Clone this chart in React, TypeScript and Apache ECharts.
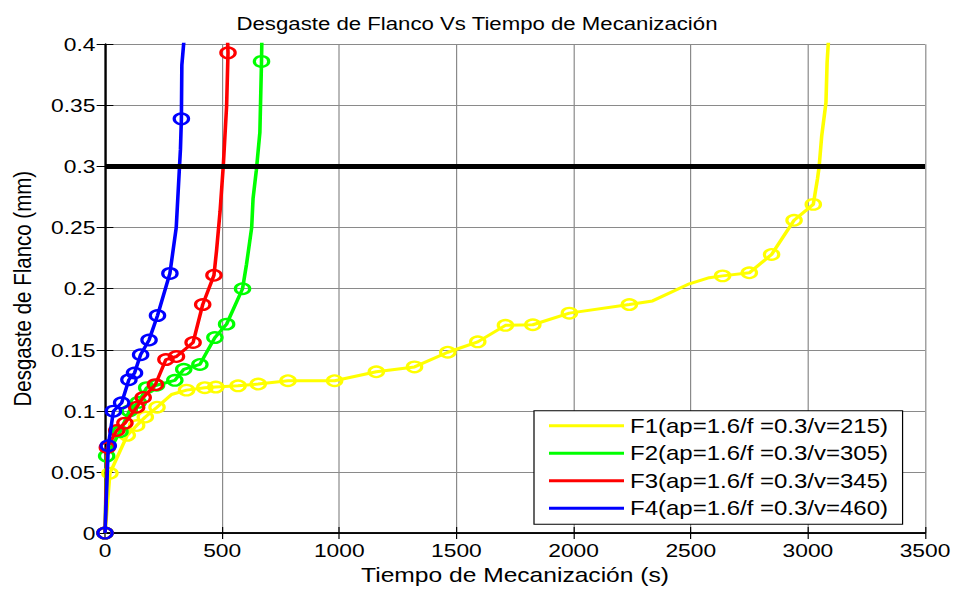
import React, { useEffect, useRef } from "react";
import * as echarts from "echarts";

// ---- data ----
const seriesNames = [
  "F1(ap=1.6/f =0.3/v=215)",
  "F2(ap=1.6/f =0.3/v=305)",
  "F3(ap=1.6/f =0.3/v=345)",
  "F4(ap=1.6/f =0.3/v=460)",
];
const seriesColors = ["#ffff00", "#00ff00", "#ff0000", "#0000ff"];

// F1 : time (s), flank wear (mm), 1 = measured point drawn with a circle
const f1Time = [0, 21, 95, 135, 172, 222, 284, 348, 426, 473, 568, 654, 781, 980, 1158, 1321, 1463, 1591, 1709, 1826, 1982, 2238, 2337, 2494, 2579, 2636, 2750, 2845, 2941, 3023, 3041, 3048, 3059, 3077, 3082, 3090];
const f1Wear = [0, 0.049, 0.080, 0.088, 0.095, 0.103, 0.1134, 0.117, 0.119, 0.1195, 0.1205, 0.122, 0.1247, 0.1247, 0.132, 0.136, 0.148, 0.1565, 0.170, 0.1705, 0.180, 0.187, 0.190, 0.204, 0.209, 0.2105, 0.213, 0.228, 0.256, 0.269, 0.290, 0.300, 0.325, 0.352, 0.385, 0.41];
const f1Mark = [1, 1, 1, 1, 1, 1, 0, 1, 1, 1, 1, 1, 1, 1, 1, 1, 1, 1, 1, 1, 1, 1, 0, 0, 0, 1, 1, 1, 1, 1, 0, 0, 0, 0, 0, 0];

const f2Time = [0, 7, 64, 104, 142, 178, 220, 298, 336, 405, 469, 519, 587, 604, 626, 632, 646, 661, 668, 670];
const f2Wear = [0, 0.063, 0.083, 0.100, 0.107, 0.119, 0.121, 0.125, 0.134, 0.138, 0.160, 0.171, 0.200, 0.220, 0.250, 0.274, 0.297, 0.328, 0.386, 0.41];
const f2Mark = [1, 1, 1, 1, 1, 1, 1, 1, 1, 1, 1, 1, 1, 0, 0, 0, 0, 0, 1, 0];

const f3Time = [0, 10, 50, 85, 135, 163, 215, 260, 305, 376, 417, 465, 476, 491, 505, 519, 525, 522];
const f3Wear = [0, 0.070, 0.084, 0.090, 0.103, 0.111, 0.1215, 0.142, 0.1445, 0.156, 0.187, 0.211, 0.231, 0.263, 0.301, 0.3495, 0.393, 0.41];
const f3Mark = [1, 1, 1, 1, 1, 1, 1, 1, 1, 1, 1, 1, 0, 0, 0, 0, 1, 0];

const f4Time = [0, 14, 36, 71, 102, 126, 152, 188, 224, 277, 304, 318, 322, 326, 328, 340];
const f4Wear = [0, 0.0715, 0.0998, 0.1066, 0.1255, 0.131, 0.146, 0.158, 0.178, 0.2125, 0.25, 0.30, 0.314, 0.339, 0.383, 0.41];
const f4Mark = [1, 1, 1, 1, 1, 1, 1, 1, 1, 1, 0, 0, 0, 1, 0, 0];

const thresholdWear = 0.3;
const thresholdTime = [0, 3500];

const xTicks = { min: 0, max: 3500, interval: 500 };
const yTicks = { min: 0, max: 0.4, interval: 0.05 };

const allTime = [f1Time, f2Time, f3Time, f4Time];
const allWear = [f1Wear, f2Wear, f3Wear, f4Wear];
const allMark = [f1Mark, f2Mark, f3Mark, f4Mark];

// ---- layout ----
const STRETCH = 1.2; // the reference figure is stretched horizontally
const W = 954 / STRETCH;
const H = 591;
const FONT = "'Liberation Sans', Arial, Helvetica, sans-serif";

export default function App() {
  const ref = useRef<HTMLDivElement>(null);

  useEffect(() => {
    if (!ref.current) return;
    const chart = echarts.init(ref.current, undefined, { renderer: "svg" });

    const axisCommon = {
      axisLine: { show: true, lineStyle: { color: "#000", width: 1.5 } },
    };

    const series: any[] = seriesNames.map((name, k) => ({
      type: "line",
      name,
      data: allTime[k].map((t, i) => ({
        value: [t, allWear[k][i]],
        symbol: allMark[k][i] ? "circle" : "none",
      })),
      showAllSymbol: true,
      symbolSize: [12, 10.5],
      lineStyle: { color: seriesColors[k], width: 3 },
      itemStyle: {
        color: "rgba(0,0,0,0)",
        borderColor: seriesColors[k],
        borderWidth: 2.5,
      },
      emphasis: { disabled: true },
      silent: true,
      z: 2 + k,
    }));

    series.push({
      type: "line",
      name: "Límite",
      data: thresholdTime.map((t) => [t, thresholdWear]),
      symbol: "none",
      lineStyle: { color: "#000", width: 5 },
      silent: true,
      z: 10,
    });

    chart.setOption({
      animation: false,
      backgroundColor: "#fff",
      title: {
        text: "Desgaste de Flanco Vs Tiempo de Mecanización",
        left: "center",
        top: 9,
        textStyle: {
          fontFamily: FONT,
          fontSize: 18.5,
          fontWeight: "normal",
          color: "#000",
        },
      },
      grid: { left: 87.5, right: W - 926 / STRETCH, top: 44.3, bottom: H - 538.3 },
      xAxis: [
        {
          type: "value",
          ...xTicks,
          name: "Tiempo de Mecanización (s)",
          nameLocation: "middle",
          nameGap: 30,
          nameTextStyle: { fontFamily: FONT, fontSize: 20.5, color: "#000" },
          ...axisCommon,
          axisTick: { show: true, inside: true, length: 6, lineStyle: { color: "#000" } },
          axisLabel: {
            fontFamily: FONT,
            fontSize: 19,
            color: "#000",
            margin: 8,
            formatter: (v: number) => String(v),
          },
          splitLine: { show: true, lineStyle: { color: "#8a8a8a", width: 1 } },
        },
        {
          type: "value",
          position: "top",
          ...xTicks,
          ...axisCommon,
          axisTick: { show: true, inside: true, length: 6, lineStyle: { color: "#000" } },
          axisLabel: { show: false },
          splitLine: { show: false },
        },
      ],
      yAxis: [
        {
          type: "value",
          ...yTicks,
          name: "Desgaste de Flanco (mm)",
          nameLocation: "middle",
          nameGap: 58,
          nameTextStyle: { fontFamily: FONT, fontSize: 20.5, color: "#000" },
          ...axisCommon,
          axisTick: { show: true, inside: true, length: 7, lineStyle: { color: "#000" } },
          axisLabel: { fontFamily: FONT, fontSize: 19, color: "#000", margin: 8 },
          splitLine: { show: true, lineStyle: { color: "#8a8a8a", width: 1 } },
        },
        {
          type: "value",
          position: "right",
          ...yTicks,
          ...axisCommon,
          axisTick: { show: true, inside: true, length: 7, lineStyle: { color: "#000" } },
          axisLabel: { show: false },
          splitLine: { show: false },
        },
      ],
      legend: {
        orient: "vertical",
        left: 534 / STRETCH,
        top: 410.7,
        itemWidth: 62.5,
        itemHeight: 3,
        itemGap: 7.5,
        padding: [5, 12, 6, 12.5],
        borderColor: "#000",
        borderWidth: 1,
        backgroundColor: "#fff",
        selectedMode: false,
        textStyle: { fontFamily: FONT, fontSize: 20, color: "#000" },
        data: seriesNames.map((name, k) => ({
          name,
          icon: "rect",
          itemStyle: { color: seriesColors[k], borderWidth: 0 },
        })),
      },
      series,
    });

    return () => chart.dispose();
  }, []);

  return (
    <div
      ref={ref}
      style={{
        position: "absolute",
        left: 0,
        top: 0,
        width: W,
        height: H,
        transform: `scaleX(${STRETCH})`,
        transformOrigin: "0 0",
      }}
    />
  );
}
